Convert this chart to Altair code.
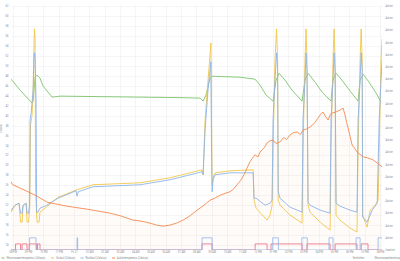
import altair as alt
import pandas as pd

BASE = pd.Timestamp("2024-06-20 20:00")

SERIES = ["Warmwassertemperatur (Celsius)", "Vorlauf (Celsius)",
          "Rücklauf (Celsius)", "Außentemperatur (Celsius)"]
COLORS = ["#7dc36b", "#f0c64a", "#8db4ec", "#f5894b"]

# hours after 20:00 and °C
ww_h = [-0.11, 0.48, 1.26, 1.33, 1.46, 1.59, 1.78, 1.98, 2.57, 3.09, 5.71, 8.32, 10.93, 12.24, 12.44,
        12.63, 12.89, 13.03, 14.86, 15.84, 16.16, 16.56, 17.01, 17.21, 17.41, 17.8, 18.25, 18.91,
        19.1, 19.3, 19.76, 20.22, 20.8, 20.93, 21.13, 21.52, 22.05, 22.57, 22.7, 22.9, 23.29,
        23.75, 24.07]
ww_v = [47.3, 45.1, 42.5, 42.9, 47.7, 48.1, 47.5, 45.9, 43.7, 43.9, 43.8, 43.7, 43.6, 43.5, 42.9,
        44.1, 47.5, 47.9, 47.7, 47.3, 46.1, 44.1, 42.9, 47.1, 48.5, 47.1, 45.1, 42.9,
        47.1, 48.5, 46.7, 44.7, 42.9, 47.1, 48.5, 47.1, 44.9, 42.9, 47.1, 48.3, 46.7,
        44.5, 42.7]

vl_h = [-0.11, 0.15, 0.41, 0.51, 0.61, 0.67, 0.87, 0.93, 1.03, 1.10, 1.13, 1.16, 1.26, 1.33, 1.39,
        1.42, 1.46, 1.49, 1.56, 1.59, 1.72, 1.78, 2.11, 2.96, 4.20, 5.25, 8.32, 10.27, 12.37,
        12.44, 12.57, 12.76, 12.95, 12.99, 13.03, 13.09, 13.22, 14.2, 15.71, 15.77, 15.9, 16.62,
        16.82, 16.95, 17.01, 17.14, 17.24, 17.31, 17.35, 17.47, 18.12, 18.91, 18.97, 19.1, 19.17,
        19.23, 19.3, 19.43, 20.09, 20.74, 20.8, 20.93, 21.0, 21.07, 21.13, 21.39, 22.05, 22.5,
        22.57, 22.7, 22.77, 22.84, 22.87, 23.16, 23.36, 23.69, 23.88, 23.95, 24.07, 24.14]
vl_v = [20.6, 22.0, 22.4, 18.6, 18.6, 21.8, 22.4, 18.6, 18.6, 21.0, 27.1, 38.1, 40.1, 45.1, 55.2,
        57.4, 55.2, 25.1, 20.0, 18.6, 18.6, 20.6, 21.4, 23.6, 25.1, 26.1, 26.5, 27.5, 29.1,
        28.1, 39.1, 47.1, 54.6, 39.1, 26.1, 27.5, 28.5, 28.9, 29.1, 23.0, 21.4, 19.0,
        20.0, 22.0, 33.1, 51.2, 57.4, 51.2, 23.0, 22.0, 20.0, 18.4, 33.1, 51.2, 57.4,
        51.2, 22.0, 20.6, 18.6, 17.0, 33.1, 51.2, 57.4, 51.2, 20.0, 19.0, 17.4, 16.6,
        33.1, 51.2, 57.4, 51.2, 20.0, 17.6, 21.0, 22.0, 23.0, 33.1, 51.2, 55.4]

rl_h = [-0.11, 0.15, 0.41, 0.51, 0.61, 0.67, 0.87, 0.93, 1.03, 1.10, 1.13, 1.20, 1.33, 1.39, 1.42,
        1.46, 1.52, 1.56, 1.65, 1.78, 2.11, 2.96, 4.14, 4.20, 4.27, 5.25, 8.32, 10.27, 12.37,
        12.44, 12.57, 12.76, 12.95, 12.99, 13.03, 13.09, 13.22, 14.2, 15.71, 15.77, 15.9, 16.49,
        16.82, 16.95, 17.01, 17.14, 17.24, 17.31, 17.35, 17.47, 18.12, 18.91, 18.97, 19.1, 19.17,
        19.23, 19.3, 19.43, 20.09, 20.74, 20.8, 20.93, 21.0, 21.07, 21.13, 21.39, 22.05, 22.5,
        22.57, 22.7, 22.77, 22.84, 22.87, 23.16, 23.49, 23.82, 23.95, 24.07, 24.14]
rl_v = [21.0, 22.0, 22.4, 20.4, 20.4, 22.0, 22.4, 20.4, 20.4, 22.0, 39.1, 40.5, 45.1, 52.2, 52.6,
        51.2, 43.1, 20.6, 20.6, 21.4, 21.8, 23.4, 24.9, 23.8, 24.7, 25.7, 26.1, 27.1, 28.7,
        28.1, 37.1, 45.1, 50.8, 33.1, 24.7, 27.1, 28.1, 28.5, 28.5, 23.4, 23.4, 22.0,
        22.4, 23.0, 39.1, 47.1, 52.6, 49.1, 24.7, 23.4, 21.6, 20.6, 39.1, 47.1, 52.6,
        49.1, 22.6, 22.0, 21.0, 20.4, 39.1, 47.1, 52.6, 49.1, 22.4, 21.8, 21.0, 20.6,
        39.1, 47.1, 52.6, 49.1, 19.6, 18.6, 21.0, 22.4, 39.1, 47.1, 51.2]

at_h = [-0.11, 0.0, 0.5, 1.0, 1.6, 2.24, 2.9, 3.55, 4.2, 4.86, 5.6, 6.36, 7.1, 7.86, 8.4, 8.97,
        9.4, 9.82, 10.27, 10.7, 11.13, 11.6, 12.05, 12.5, 12.89, 13.2, 13.55, 13.9, 14.2, 14.45,
        14.66, 14.9, 15.18, 15.3, 15.5, 15.7, 15.84, 16.03, 16.15, 16.29, 16.45, 16.62, 16.8,
        17.01, 17.2, 17.47, 17.7, 17.9, 18.12, 18.35, 18.58, 18.8, 18.97, 19.2, 19.43, 19.7,
        19.95, 20.1, 20.28, 20.45, 20.61, 20.75, 20.87, 21.1, 21.39, 21.59, 21.72, 21.82, 21.92,
        22.05, 22.18, 22.35, 22.5, 22.7, 22.9, 23.2, 23.55, 23.85, 24.14]
at_v = [26.7, 26.1, 25.4, 24.7, 23.8, 22.6, 22.2, 21.8, 21.5, 21.2, 20.8, 20.4, 19.8, 19.0, 18.8,
        18.4, 18.0, 17.8, 18.0, 18.4, 19.0, 19.9, 21.0, 22.0, 23.0, 23.4, 24.0, 24.4, 24.7, 25.3,
        26.1, 27.0, 28.5, 29.4, 30.7, 31.6, 32.1, 31.7, 32.6, 33.1, 33.6, 34.5, 34.9,
        35.1, 34.4, 34.7, 35.6, 35.2, 36.1, 36.6, 36.7, 36.2, 37.1, 37.3, 37.7, 38.4,
        39.5, 40.2, 40.7, 39.8, 39.1, 40.2, 40.5, 40.7, 41.1, 41.5, 40.1, 38.6, 37.5,
        35.8, 34.1, 33.4, 32.7, 32.2, 31.7, 31.5, 31.1, 30.4, 29.7]

# state change points (hours after 20:00), level while active
vd_h = [-0.11, 0.18, 0.51, 0.61, 0.93, 1.07, 1.56, 1.62, 1.78, 12.37, 13.03, 15.84, 16.62, 16.88,
        18.91, 19.23, 20.74, 21.07, 22.5, 22.77, 23.22, 24.14]
vd_s = [0, 0.5, 0, 0.5, 0, 0.5, 0, 0.5, 0, 0.5, 0, 0.5, 0, 0.5, 0, 0.5, 0, 0.5, 0, 0.5, 0, 0]
wb_h = [-0.11, 1.10, 1.52, 4.20, 4.24, 12.37, 13.03, 16.99, 17.36, 18.89, 19.25, 20.67, 20.93,
        22.44, 22.7, 23.88, 24.14]
wb_s = [0, 1, 0, 1, 0, 1, 0, 1, 0, 1, 0, 1, 0, 1, 0, 1, 1]

# hourly tick positions (hours after 20:00)
tick_h = list(range(0, 25))

STATES = ["Verdichter", "Warmwasserbereitung"]
STATE_COLORS = ["#e9677d", "#8db4ec"]

Y_MIN, Y_MAX = 13, 62.2
S_MAX = 20.08


def ms(hours):
    return [float((BASE + pd.Timedelta(hours=h)).value // 10**6) for h in hours]


rows = []
for name, hs, vs in zip(SERIES, [ww_h, vl_h, rl_h, at_h], [ww_v, vl_v, rl_v, at_v]):
    for t, v in zip(ms(hs), vs):
        rows.append({"series": name, "t": t, "v": v})
temp = pd.DataFrame(rows)
outdoor = temp[temp.series == SERIES[3]].copy()
outdoor["base"] = Y_MIN

srows = []
for name, hs, vs in zip(STATES, [vd_h, wb_h], [vd_s, wb_s]):
    for t, v in zip(ms(hs), vs):
        srows.append({"state": name, "t": t, "s": v})
states = pd.DataFrame(srows)

FONT = "Roboto"
LBL = "#8a8a8a"
dom = ms([-7 / 60, 24 + 8 / 60])

xscale = alt.Scale(domain=dom, type="utc")
xaxis = alt.Axis(format="%H:%M", formatType="utc", values=ms(tick_h),
                 labelFontSize=2.6, labelColor=LBL, labelPadding=1.2, ticks=False,
                 domain=False, grid=True, gridColor="#efefef", gridWidth=0.6,
                 title=None, labelFont=FONT, labelOverlap=False)
X = alt.X("t:T", scale=xscale, axis=xaxis)
yscale = alt.Scale(domain=[Y_MIN, Y_MAX], nice=False, zero=False)
yaxis = alt.Axis(values=list(range(14, 63, 2)), labelFontSize=2.6, labelColor=LBL, ticks=False,
                 domain=False, grid=True, gridColor="#efefef", gridWidth=0.6, labelPadding=3,
                 title="Celsius", titleFontSize=2.6, titleColor=LBL, titleFontWeight="normal",
                 titleAngle=-90, titleX=-8, titleY=123, labelFont=FONT, titleFont=FONT)
syscale = alt.Scale(domain=[0, S_MAX], nice=False, zero=True)
syaxis = alt.Axis(orient="right", values=list(range(0, 21)), grid=False, ticks=False,
                  domain=False, labelFontSize=2.6, labelColor=LBL, labelPadding=3,
                  labelExpr="datum.value == 0 ? 'Inactive' : 'Active'", title=None,
                  labelFont=FONT)

area = alt.Chart(outdoor).mark_area(color="#f5894b", opacity=0.035, clip=True).encode(
    x=X,
    y=alt.Y("v:Q", scale=yscale, axis=yaxis),
    y2="base:Q")

lines = alt.Chart(temp).mark_line(strokeWidth=0.9, clip=True).encode(
    x=X,
    y=alt.Y("v:Q", scale=yscale, axis=None),
    color=alt.Color("series:N", scale=alt.Scale(domain=SERIES, range=COLORS), sort=SERIES,
                    legend=alt.Legend(orient="none", legendX=-10, legendY=251, direction="horizontal",
                                      title=None, symbolType="stroke", symbolSize=9,
                                      symbolStrokeWidth=1, labelFontSize=2.6, labelColor=LBL,
                                      labelFont=FONT, labelOffset=1.5, columnPadding=2.5,
                                      labelLimit=200)),
    order=alt.Order("t:T"))

state_area = alt.Chart(states).mark_area(interpolate="step-after", opacity=0.3, clip=True).encode(
    x=X,
    y=alt.Y("s:Q", scale=syscale, axis=syaxis),
    color=alt.Color("state:N", scale=alt.Scale(domain=STATES, range=STATE_COLORS),
                    legend=alt.Legend(orient="none", legendX=336, legendY=251, direction="horizontal",
                                      title=None, symbolType="stroke", symbolSize=9,
                                      symbolStrokeWidth=1, labelFontSize=2.6, labelColor=LBL,
                                      labelFont=FONT, labelOffset=1.5, columnPadding=4)),
    order=alt.Order("t:T"))

state_line = alt.Chart(states).mark_line(interpolate="step-after", strokeWidth=0.8, clip=True).encode(
    x=X,
    y=alt.Y("s:Q", scale=syscale, axis=None),
    color=alt.Color("state:N", scale=alt.Scale(domain=STATES, range=STATE_COLORS), legend=None),
    order=alt.Order("t:T"))

chart = alt.layer(area, lines, state_area, state_line).resolve_scale(
    y="independent", color="independent"
).properties(
    width=371, height=245,
    autosize=alt.AutoSizeParams(type="none"),
    padding={"left": 11, "right": 18, "top": 5, "bottom": 11},
    background="white",
).configure_view(stroke=None)

chart.save("out.html", embed_options={"renderer": "svg", "actions": False})
